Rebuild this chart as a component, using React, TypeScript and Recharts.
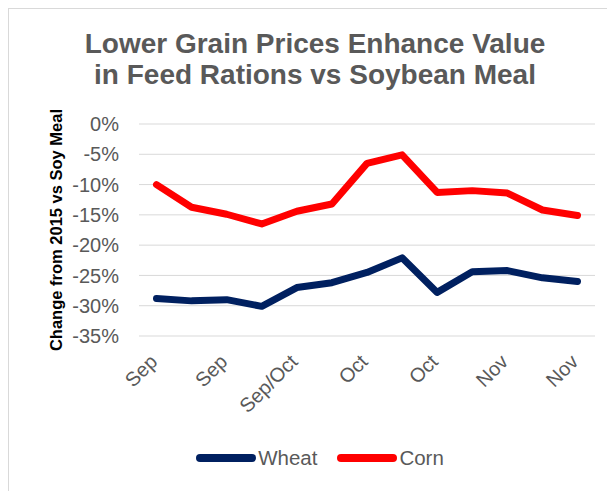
import { CartesianGrid, Legend, Line, LineChart, XAxis, YAxis } from "recharts"

const categories = ["Sep", "Sep", "Sep", "Sep", "Sep/Oct", "Oct", "Oct", "Oct", "Oct", "Nov", "Nov", "Nov", "Nov"]
const wheat = [-28.8, -29.2, -29.0, -30.1, -27.0, -26.2, -24.5, -22.1, -27.8, -24.4, -24.2, -25.4, -26.0]
const corn = [-10.0, -13.75, -14.9, -16.5, -14.4, -13.2, -6.5, -5.1, -11.3, -11.0, -11.4, -14.2, -15.1]
const yTicks = [0, -5, -10, -15, -20, -25, -30, -35]

const data = categories.map((cat, i) => ({ cat, Wheat: wheat[i], Corn: corn[i] }))

const series = [
  { key: "Wheat", color: "#002060" },
  { key: "Corn", color: "#FF0000" },
]

const font = "'Liberation Sans', Arial, sans-serif"
const gray = "#595959"

function XTick({ x, y, payload, index }: any) {
  if (index % 2 !== 0) return null
  return (
    <g transform={`translate(${x + 2},${y + 27})`}>
      <text textAnchor="end" transform="rotate(-45)" fill={gray} fontSize={20} fontFamily={font}>
        {payload.value}
      </text>
    </g>
  )
}

function LegendContent() {
  return (
    <div
      style={{
        display: "flex",
        justifyContent: "center",
        alignItems: "center",
        height: 40,
        marginTop: 2,
        paddingLeft: 36,
        fontFamily: font,
      }}
    >
      {series.map((s, i) => (
        <div key={s.key} style={{ display: "flex", alignItems: "center", marginLeft: i ? 20 : 0 }}>
          <svg width={60} height={10} style={{ display: "block" }}>
            <line x1={4} y1={5} x2={56} y2={5} stroke={s.color} strokeWidth={8} strokeLinecap="round" />
          </svg>
          <span style={{ fontSize: 20.5, color: gray, lineHeight: "24px", marginLeft: 2 }}>{s.key}</span>
        </div>
      ))}
    </div>
  )
}

export default function App() {
  return (
    <div
      style={{
        position: "relative",
        width: 607,
        height: 490,
        borderTop: "1px solid #d9d9d9",
        borderLeft: "1px solid #d9d9d9",
        boxSizing: "border-box",
        fontFamily: font,
      }}
    >
      <style>{"body{overflow:hidden}"}</style>
      <div
        style={{
          position: "absolute",
          top: 19,
          left: 6,
          right: 0,
          textAlign: "center",
          fontSize: 28,
          lineHeight: "31px",
          fontWeight: "bold",
          color: gray,
        }}
      >
        Lower Grain Prices Enhance Value
        <br />
        in Feed Rations vs Soybean Meal
      </div>
      <LineChart width={606} height={482} data={data} margin={{ top: 115, right: 20, left: 0, bottom: 15 }}>
        <CartesianGrid vertical={false} stroke="#d9d9d9" />
        <XAxis
          dataKey="cat"
          axisLine={false}
          tickLine={false}
          tickSize={0}
          tickMargin={0}
          height={100}
          interval={0}
          padding={{ left: 17.5, right: 17.5 }}
          tick={<XTick />}
        />
        <YAxis
          domain={[-35, 0]}
          ticks={yTicks}
          width={130}
          axisLine={false}
          tickLine={false}
          tickSize={0}
          tickMargin={20}
          tickFormatter={(v) => `${v}%`}
          tick={{ fill: gray, fontSize: 20, fontFamily: font }}
          label={({ viewBox }: any) => (
            <text
              x={47}
              y={viewBox.y + viewBox.height / 2}
              transform={`rotate(-90, 47, ${viewBox.y + viewBox.height / 2})`}
              textAnchor="middle"
              dominantBaseline="central"
              fontSize={16.5}
              fontWeight="bold"
              fill="#000"
              fontFamily={font}
            >
              Change from 2015 vs Soy Meal
            </text>
          )}
        />
        <Legend verticalAlign="bottom" height={40} content={<LegendContent />} />
        {series.map((s) => (
          <Line
            key={s.key}
            type="linear"
            dataKey={s.key}
            stroke={s.color}
            strokeWidth={7}
            strokeLinejoin="round"
            strokeLinecap="round"
            dot={false}
            activeDot={false}
            isAnimationActive={false}
          />
        ))}
      </LineChart>
    </div>
  )
}
